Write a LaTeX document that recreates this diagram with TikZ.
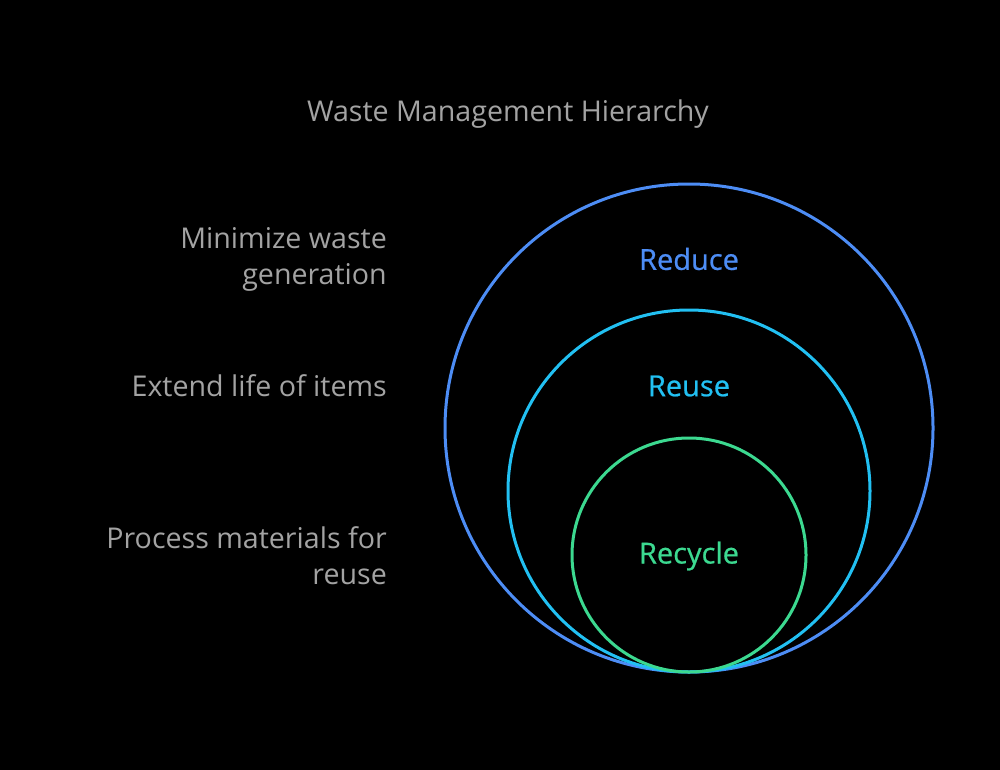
\documentclass[tikz,border=0pt]{standalone}
\usepackage{fontspec}
\setmainfont{Open Sans}
\newfontfamily\labelfont[FakeBold=0.7]{Open Sans}
\definecolor{bg}{HTML}{000000}
\definecolor{reduceC}{HTML}{4D8DF5}
\definecolor{reuseC}{HTML}{22C0F2}
\definecolor{recycleC}{HTML}{3CD990}
\definecolor{txtC}{HTML}{A3A3A3}
\begin{document}
\begin{tikzpicture}[x=1pt,y=-1pt,
  ring/.style={line width=3pt},
  lbl/.style={font=\labelfont\fontsize{29}{36}\selectfont, text=#1, inner sep=0pt},
  side/.style={font=\fontsize{28.6}{36}\selectfont, text=txtC, align=right, anchor=east, inner sep=0pt}]
\fill[bg] (0,0) rectangle (1000,770);
\useasboundingbox (0,0) rectangle (1000,770);
\node[font=\fontsize{28.6}{30}\selectfont, text=txtC, inner sep=0pt] (title) at (508,114) {Waste Management Hierarchy};
\node[ring, draw=reduceC, circle, minimum size=488pt, inner sep=0pt] (outer) at (689,428) {};
\node[ring, draw=reuseC, circle, minimum size=362pt, inner sep=0pt] (middle) at (689,491) {};
\node[ring, draw=recycleC, circle, minimum size=234pt, inner sep=0pt] (inner) at (689,555) {};
\node[lbl=reduceC] (reduce) at (689,259) {Reduce};
\node[lbl=reuseC] (reuse) at (689,386) {Reuse};
\node[lbl=recycleC] (recycle) at (689,556) {Recycle};
\node[side] (s1) at (387,259) {Minimize waste\\generation};
\node[side] (s2) at (387,386) {Extend life of items};
\node[side] (s3) at (387,556) {Process materials for\\reuse};
\end{tikzpicture}
\end{document}
